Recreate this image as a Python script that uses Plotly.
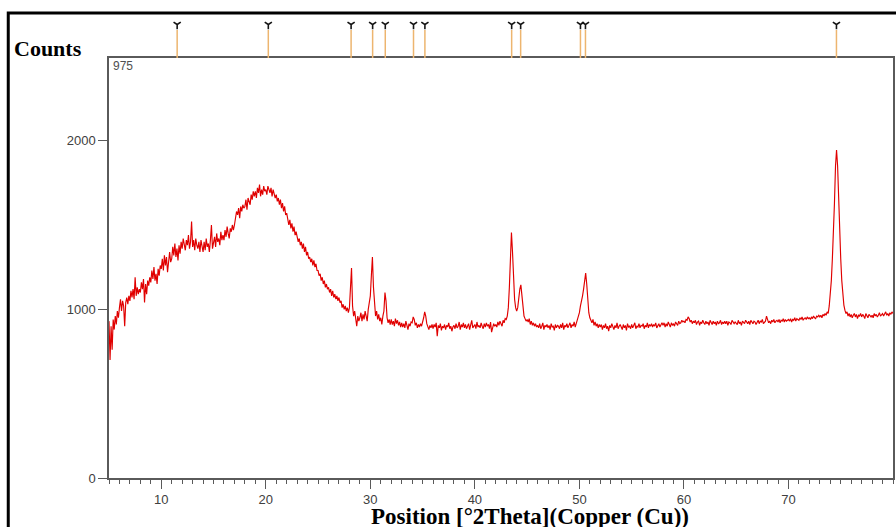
import plotly.graph_objects as go

# ---------------- data ----------------
theta_start = 5.0
theta_step = 0.1
counts = [
    930, 700, 900, 760, 940, 880, 960, 910, 990, 950,          # 5
    1010, 1060, 990, 1050, 1020, 900, 1040, 1070, 1030, 1080,  # 6
    1050, 1110, 1070, 1120, 1060, 1190, 1080, 1130, 1090, 1120,  # 7
    1100, 1160, 1120, 1180, 1040, 1150, 1090, 1170, 1140, 1190,  # 8
    1160, 1230, 1180, 1250, 1170, 1210, 1150, 1240, 1200, 1260,  # 9
    1240, 1300, 1230, 1320, 1260, 1310, 1220, 1290, 1340, 1280,  # 10
    1300, 1370, 1320, 1390, 1310, 1360, 1290, 1380, 1330, 1400,  # 11
    1360, 1420, 1370, 1350, 1410, 1380, 1440, 1360, 1400, 1520,  # 12
    1370, 1410, 1350, 1420, 1380, 1360, 1400, 1340, 1410, 1380,  # 13
    1340, 1400, 1350, 1420, 1370, 1390, 1340, 1410, 1500, 1360,  # 14
    1390, 1430, 1370, 1450, 1400, 1420, 1380, 1460, 1410, 1440,  # 15
    1410, 1470, 1430, 1490, 1450, 1420, 1480, 1460, 1500, 1470,  # 16
    1500, 1530, 1580, 1560, 1600, 1540, 1610, 1580, 1620, 1600,  # 17
    1610, 1650, 1590, 1660, 1640, 1620, 1680, 1650, 1700, 1670,  # 18
    1700, 1660, 1720, 1690, 1740, 1670, 1710, 1680, 1730, 1700,  # 19
    1710, 1680, 1730, 1700, 1690, 1720, 1670, 1710, 1690, 1660,  # 20
    1680, 1640, 1660, 1620, 1650, 1600, 1630, 1580, 1610, 1560,  # 21
    1570, 1540, 1500, 1530, 1480, 1510, 1460, 1490, 1440, 1460,  # 22
    1430, 1400, 1420, 1380, 1400, 1360, 1390, 1340, 1370, 1320,  # 23
    1340, 1300, 1310, 1280, 1300, 1260, 1290, 1250, 1270, 1230,  # 24
    1230, 1200, 1210, 1170, 1190, 1150, 1170, 1130, 1150, 1120,  # 25
    1130, 1100, 1120, 1080, 1110, 1070, 1090, 1060, 1080, 1050,  # 26
    1070, 1040, 1050, 1010, 1030, 1000, 1020, 990, 1010, 980,    # 27
    1010, 1160, 1245, 1020, 960, 990, 940, 900, 960, 930,        # 28
    950, 980, 930, 970, 940, 990, 960, 930, 1000, 1030,          # 29
    1080, 1200, 1310, 1130, 1000, 960, 990, 940, 970, 930,       # 30
    950, 910, 960, 990, 1100, 1050, 950, 920, 940, 910,          # 31
    940, 910, 930, 900, 945, 915, 935, 905, 925, 895,            # 32
    920, 895, 915, 890, 930, 905, 880, 915, 900, 925,            # 33
    920, 955, 940, 905, 920, 890, 910, 895, 915, 900,            # 34
    920, 950, 985, 960, 915, 900, 880, 905, 890, 910,            # 35
    885, 910, 895, 920, 840, 905, 890, 915, 875, 900,            # 36
    890, 910, 880, 905, 895, 920, 885, 900, 870, 895,            # 37
    905, 885, 915, 890, 900, 925, 880, 910, 895, 920,            # 38
    890, 910, 885, 900, 915, 880, 905, 935, 890, 900,            # 39
    910, 885, 925, 895, 905, 890, 920, 900, 885, 915,            # 40
    895, 920, 900, 910, 885, 925, 865, 890, 915, 900,            # 41
    910, 895, 925, 905, 930, 915, 900, 935, 920, 945,            # 42
    940, 960, 1010, 1130, 1330, 1455, 1340, 1160, 1060, 1010,    # 43
    990, 1010, 1080, 1120, 1145, 1070, 990, 960, 945, 930,       # 44
    940, 925, 945, 910, 930, 905, 920, 900, 915, 895,            # 45
    905, 890, 915, 885, 900, 920, 880, 905, 895, 910,            # 46
    890, 905, 880, 915, 895, 900, 875, 910, 890, 905,            # 47
    900, 885, 910, 890, 920, 880, 905, 895, 915, 890,            # 48
    905, 920, 890, 910, 900, 925, 895, 915, 940, 960,            # 49
    980, 1020, 1065, 1080, 1120, 1180, 1215, 1150, 1040, 980,    # 50
    950, 935, 920, 940, 905, 925, 900, 915, 890, 910,            # 51
    895, 910, 880, 905, 890, 915, 885, 900, 870, 905,            # 52
    890, 915, 895, 880, 905, 890, 920, 885, 900, 910,            # 53
    895, 880, 910, 890, 905, 875, 915, 895, 900, 885,            # 54
    910, 890, 905, 920, 885, 900, 895, 915, 890, 905,            # 55
    900, 915, 885, 905, 895, 920, 890, 910, 900, 915,            # 56
    895, 910, 900, 920, 890, 905, 915, 895, 910, 920,            # 57
    905, 920, 895, 915, 900, 925, 910, 895, 920, 905,            # 58
    915, 900, 925, 910, 905, 930, 915, 920, 935, 925,            # 59
    930, 920, 940, 935, 955, 945, 925, 935, 915, 930,            # 60
    920, 935, 910, 925, 930, 905, 925, 915, 935, 920,            # 61
    910, 930, 915, 925, 905, 935, 920, 910, 930, 915,            # 62
    925, 905, 930, 915, 920, 935, 910, 925, 915, 930,            # 63
    915, 930, 905, 925, 920, 910, 935, 920, 915, 925,            # 64
    920, 910, 935, 915, 925, 905, 930, 920, 915, 935,            # 65
    925, 915, 930, 910, 935, 920, 915, 930, 925, 910,            # 66
    920, 935, 915, 930, 925, 940, 915, 925, 930, 960,            # 67
    935, 920, 930, 915, 935, 925, 940, 920, 930, 935,            # 68
    925, 940, 920, 935, 930, 945, 925, 940, 930, 935,            # 69
    940, 930, 945, 925, 940, 935, 950, 930, 945, 940,            # 70
    935, 950, 940, 955, 935, 945, 950, 940, 955, 945,            # 71
    950, 940, 955, 945, 960, 950, 945, 960, 955, 965,            # 72
    955, 965, 950, 970, 960, 975, 965, 985, 975, 1020,           # 73
    1080, 1170, 1300, 1440, 1630, 1850, 1945, 1850, 1630, 1440,  # 74
    1300, 1170, 1080, 1025, 995, 975, 985, 960, 975, 955,        # 75
    970, 950, 965, 975, 955, 970, 945, 965, 960, 975,            # 76
    955, 970, 960, 945, 975, 960, 950, 970, 965, 955,            # 77
    965, 950, 975, 960, 970, 955, 965, 980, 960, 970,            # 78
    975, 960, 970, 985, 965, 975, 960, 980, 970, 985,            # 79
    975,                                                         # 80
]
theta = [round(theta_start + i * theta_step, 1) for i in range(len(counts))]

ref_peaks = [11.52, 20.24, 28.16, 30.22, 31.43, 34.13, 35.22,
             43.52, 44.38, 50.10, 50.58, 74.59]

x_ticks = [10, 20, 30, 40, 50, 60, 70]
x_tick_labels = ["10", "20", "30", "40", "50", "60", "70"]
y_ticks = [0, 1000, 2000]
y_tick_labels = ["0", "1000", "2000"]

# ---------------- figure ----------------
W, H = 896, 527
ML, MR, MT, MB = 109, 1, 13, 49
plot_h = H - MT - MB          # 465
main_top = 420 / plot_h       # main plot domain top

stick_top = 28
glyph_y = 33.5
sx, sy = [], []
for p in ref_peaks:
    sx += [p, p, None]
    sy += [0, stick_top, None]

fig = go.Figure()
fig.add_trace(go.Scatter(x=theta, y=counts, mode="lines",
                         line=dict(color="#e00000", width=1.15),
                         xaxis="x", yaxis="y", hoverinfo="skip"))
fig.add_trace(go.Scatter(x=sx, y=sy, mode="lines",
                         line=dict(color="#edb56f", width=1.5),
                         xaxis="x2", yaxis="y2", hoverinfo="skip"))
fig.add_trace(go.Scatter(x=ref_peaks, y=[glyph_y] * len(ref_peaks), mode="markers",
                         marker=dict(symbol="y-down", size=6,
                                     line=dict(color="#151515", width=1.6)),
                         xaxis="x2", yaxis="y2", hoverinfo="skip"))

tickfont = dict(family="Liberation Sans Narrow, Arial Narrow, Liberation Sans, Arial, sans-serif",
                size=13, color="#404040")
axcol = "#5a5a5a"

fig.update_layout(
    width=W, height=H,
    margin=dict(l=ML, r=MR, t=MT, b=MB, pad=0),
    paper_bgcolor="white", plot_bgcolor="white",
    showlegend=False,
    xaxis=dict(range=[5, 80], domain=[0, 1], anchor="y",
               showline=True, linecolor=axcol, linewidth=1.5, mirror=True,
               ticks="outside", ticklen=9, tickwidth=1.2, tickcolor=axcol,
               tickvals=x_ticks, ticktext=x_tick_labels, tickfont=tickfont,
               showgrid=False, zeroline=False,
               minor=dict(ticks="outside", ticklen=4, tickwidth=1, tickcolor=axcol,
                          dtick=1, tick0=0, showgrid=False)),
    yaxis=dict(range=[0, 2490], domain=[0, main_top], anchor="x",
               showline=True, linecolor=axcol, linewidth=1.5, mirror=True,
               ticks="outside", ticklen=9, tickwidth=1.2, tickcolor=axcol,
               tickvals=y_ticks, ticktext=y_tick_labels, tickfont=tickfont,
               showgrid=False, zeroline=False),
    xaxis2=dict(range=[5, 80], domain=[0, 1], anchor="y2", visible=False),
    yaxis2=dict(range=[0, 45], domain=[main_top, 1], anchor="x2", visible=False),
)

def px_x(px):
    return (px - ML) / (W - ML - MR)

def px_y(py):
    return (H - MB - py) / plot_h

# outer black frame
fig.add_shape(type="rect", xref="paper", yref="paper",
              x0=px_x(8), x1=px_x(905), y0=px_y(540), y1=px_y(13),
              line=dict(color="black", width=3), fillcolor="rgba(0,0,0,0)", layer="above")

serif = "Liberation Serif, Times New Roman, serif"
fig.add_annotation(x=px_x(48), y=px_y(48), xref="paper", yref="paper",
                   text="<b>Counts</b>", showarrow=False,
                   font=dict(family=serif, size=22, color="black"),
                   xanchor="center", yanchor="middle")
fig.add_annotation(x=px_x(111), y=px_y(66), xref="paper", yref="paper",
                   text="975", showarrow=False,
                   font=dict(family="Liberation Sans Narrow, Arial Narrow, Liberation Sans, sans-serif",
                             size=12, color="#505050"),
                   xanchor="left", yanchor="middle")
fig.add_annotation(x=px_x(531), y=px_y(516), xref="paper", yref="paper",
                   text="<b>Position [°2Theta](Copper (Cu))</b>", showarrow=False,
                   font=dict(family=serif, size=23, color="black"),
                   xanchor="center", yanchor="middle")

fig.write_html("out.html",
               config={"displayModeBar": False},
               post_script="document.body.style.margin='0px';document.body.style.overflow='hidden';")
